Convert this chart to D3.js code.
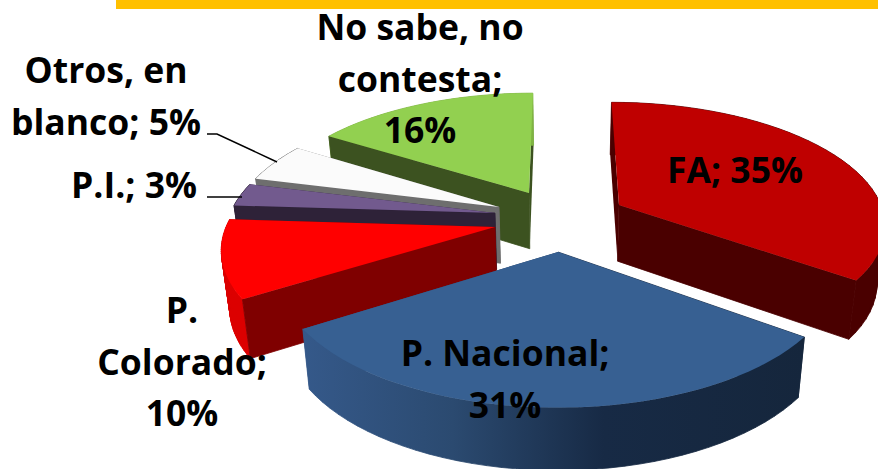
<!DOCTYPE html>
<html>
<head>
<meta charset="utf-8">
<script src="https://cdn.jsdelivr.net/npm/d3@7"></script>
<style>
  html, body { margin: 0; background: #fff; overflow: hidden; }
  text { font-family: "Open Sans", sans-serif; font-weight: 700; font-size: 35.5px; fill: #000; text-anchor: middle; }
</style>
</head>
<body>
<svg width="878" height="469"></svg>
<script>
  // slices, clockwise from 12 o'clock
  const categories = ["FA", "P. Nacional", "P. Colorado", "P.I.", "Otros, en blanco", "No sabe, no contesta"];
  const values = [35, 31, 10, 3, 5, 16];
  const labelLines = [
    ["FA; 35%"],
    ["P. Nacional;", "31%"],
    ["P.", "Colorado;", "10%"],
    ["P.I.; 3%"],
    ["Otros, en", "blanco; 5%"],
    ["No sabe, no", "contesta;", "16%"],
  ];

  // styling per slice
  const topColors = ["#bf0000", "#376092", "#ff0000", "#725a8e", "#fbfbfb", "#92d050"];
  const edgeColors = ["#4a0000", "url(#blueWall)", "#7f0000", "#2e2238", "#6e6e6e", "#3c5220"];
  const rimColors = ["#4a0000", "url(#blueWall)", "#dc0000", "#2e2238", "#6e6e6e", "#7fb442"];
  // apex of each slice on screen (exploded pie)
  const apexes = [[619, 205], [558, 252], [495, 227], [495, 213], [499, 207], [529, 193]];
  const labelAt = [[735, 183], [505, 366], [182, 323], [134, 198], [106, 83], [420, 40]];
  const drawOrder = [5, 0, 4, 3, 2, 1];

  const svg = d3.select("svg");
  const R = 270, depth = 57;
  const vx = 560, hy = 230, tilt = 125, persp = 0.15, shrink = 0.025;

  const defs = svg.append("defs");
  const grad = defs.append("linearGradient")
    .attr("id", "blueWall")
    .attr("gradientUnits", "userSpaceOnUse")
    .attr("x1", 302).attr("x2", 805).attr("y1", 0).attr("y2", 0);
  [[0, "#35598a"], [0.3, "#2b4a70"], [0.6, "#172a45"], [1, "#15263c"]].forEach(([o, c]) =>
    grad.append("stop").attr("offset", o).attr("stop-color", c));

  // screen apex -> ground plane coordinates
  const toWorld = ([ax, ay]) => {
    const u = ay - hy;
    const wy = u / (tilt + persp * u);
    return [(ax - vx) * (1 - persp * wy), wy];
  };
  // ground point plus height z (0 top face, 1 bottom face) -> screen
  const project = (wx, wy, z) => {
    const s = 1 / (1 - persp * wy);
    return [vx + wx * s * (1 - shrink * z), hy + wy * tilt * s + z * depth * Math.sqrt(s)];
  };

  const pie = d3.pie().sort(null).value((d) => d)(values);
  const line = d3.line();

  const chartG = svg.append("g");
  drawOrder.forEach((i) => {
    const d = pie[i];
    const [ox, oy] = toWorld(apexes[i]);
    const onRim = (a, z) => project(ox + R * Math.sin(a), oy - Math.cos(a), z);
    const apex = (z) => project(ox, oy, z);
    const angles = d3.range(0, 41).map((k) => d.startAngle + (d.endAngle - d.startAngle) * k / 40);
    const topRim = angles.map((a) => onRim(a, 0));

    const g = chartG.append("g").attr("class", "slice").attr("data-category", categories[i]);
    const edge = (a) => line([apex(0), onRim(a, 0), onRim(a, 1), apex(1)]) + "Z";
    const edges = [d.startAngle, d.endAngle].sort((a, b) => -Math.cos(a) - -Math.cos(b));

    g.append("path").attr("d", edge(edges[0])).attr("fill", edgeColors[i]);
    // rim as strips inside one path, a single outline twists where it turns
    const rim = d3.pairs(angles)
      .map(([a, b]) => {
        const quad = [onRim(a, 0), onRim(b, 0), onRim(b, 1), onRim(a, 1)];
        // keep every strip wound the same way so folds do not cancel out
        return line(d3.polygonArea(quad) < 0 ? quad.reverse() : quad) + "Z";
      })
      .join("");
    g.append("path").attr("d", rim)
      .attr("fill", rimColors[i])
      .attr("stroke", rimColors[i])
      .attr("stroke-width", 0.8);
    g.append("path").attr("d", edge(edges[1]))
      .attr("fill", edgeColors[i])
      .attr("stroke", edgeColors[i])
      .attr("stroke-width", 0.8);
    g.append("path").attr("d", line([apex(0), ...topRim]) + "Z").attr("fill", topColors[i]);
  });

  // leader lines for the two small slices
  svg.append("path").attr("d", line([[207, 134], [217, 134], [277, 162]]))
    .attr("fill", "none").attr("stroke", "#000").attr("stroke-width", 1.5);
  svg.append("path").attr("d", line([[207, 197], [242, 197]]))
    .attr("fill", "none").attr("stroke", "#000").attr("stroke-width", 1.5);

  // band across the top
  svg.append("rect").attr("x", 116).attr("y", 0).attr("width", 762).attr("height", 9).attr("fill", "#ffc000");

  labelLines.forEach((lines, i) => {
    const [x, y] = labelAt[i];
    lines.forEach((t, j) => {
      svg.append("text")
        .attr("x", x)
        .attr("y", y + j * 51.5)
        .text(t);
    });
  });
</script>
</body>
</html>
